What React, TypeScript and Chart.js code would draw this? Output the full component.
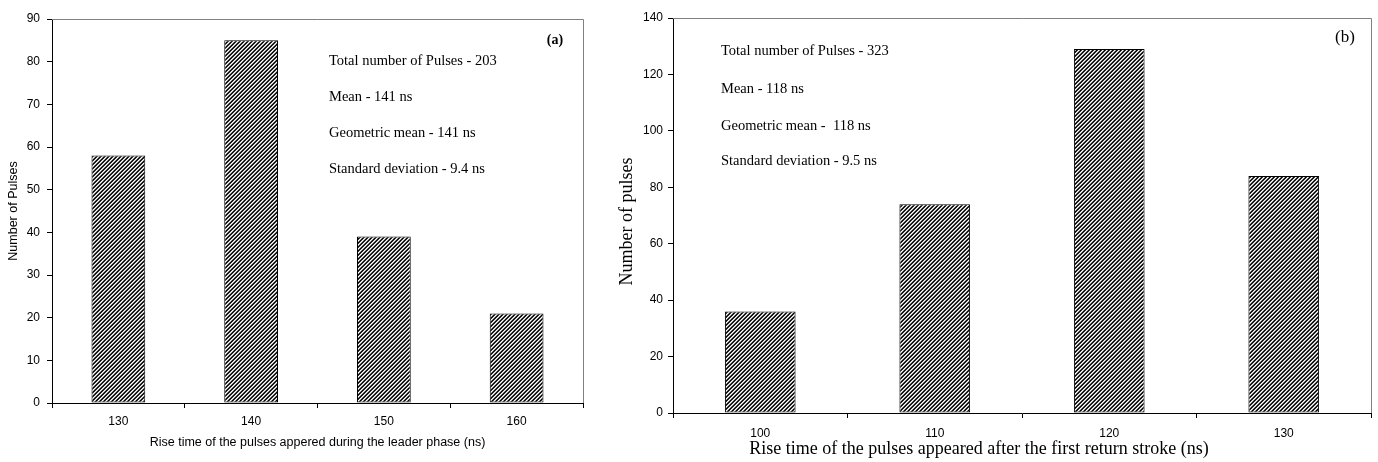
import { useEffect, useRef } from 'react';
import { Chart, registerables } from 'chart.js';

Chart.register(...registerables);

// ---- data (a) ----
const leftCategories = ['130', '140', '150', '160'];
const leftCounts = [58, 85, 39, 21];
const leftStats = [
  'Total number of Pulses - 203',
  'Mean - 141 ns',
  'Geometric mean - 141 ns',
  'Standard deviation - 9.4 ns',
];
const leftTag = '(a)';
const leftXTitle = 'Rise time of the pulses appered during the leader phase (ns)';
const leftYTitle = 'Number of Pulses';

// ---- data (b) ----
const rightCategories = ['100', '110', '120', '130'];
const rightCounts = [36, 74, 129, 84];
const rightStats = [
  'Total number of Pulses - 323',
  'Mean - 118 ns',
  'Geometric mean -  118 ns',
  'Standard deviation - 9.5 ns',
];
const rightTag = '(b)';
const rightXTitle = 'Rise time of the pulses appeared after the first return stroke (ns)';
const rightYTitle = 'Number of pulses';

const SANS = '"Liberation Sans", Arial, sans-serif';
const SERIF = '"Liberation Serif", "Times New Roman", serif';

function makeHatch(ctx: CanvasRenderingContext2D): CanvasPattern | string {
  const c = document.createElement('canvas');
  c.width = 4;
  c.height = 4;
  const g = c.getContext('2d');
  if (!g) return '#555';
  const colors = ['#000000', '#3a3a3a', '#ffffff', '#a8a8a8'];
  for (let x = 0; x < 4; x++) {
    for (let y = 0; y < 4; y++) {
      g.fillStyle = colors[(x + y) % 4];
      g.fillRect(x, y, 1, 1);
    }
  }
  return ctx.createPattern(c, 'repeat') || '#555';
}

interface CustomTitle {
  text: string;
  x: number;
  y: number;
  rotate: boolean;
  font: string;
}

interface PanelCfg {
  categories: string[];
  counts: number[];
  yMax: number;
  yStep: number;
  padTop: number;
  padRight: number;
  yWidth: number;
  xHeight: number;
  yTickPad: number;
  xTickPad: number;
  xTitle: string;
  yTitle: string;
  useAxisTitles: boolean;
  titleFont: { family: string; size: number };
  xTitlePad: number;
  yTitlePad: number;
  customTitles: CustomTitle[];
  stats: string[];
  statsX: number;
  statsY: number[];
  tag: string;
  tagX: number;
  tagY: number;
  tagFont: string;
}

function makeChart(canvas: HTMLCanvasElement, cfg: PanelCfg): Chart {
  const ctx = canvas.getContext('2d') as CanvasRenderingContext2D;
  const hatch = makeHatch(ctx);

  const framePlugin = {
    id: 'frameAndText',
    afterDraw(chart: Chart) {
      const { ctx: c, chartArea } = chart;
      const { left, right, top, bottom } = chartArea;
      c.save();
      c.strokeStyle = '#808080';
      c.lineWidth = 1;
      c.beginPath();
      c.moveTo(left, Math.round(top) + 0.5);
      c.lineTo(Math.round(right) + 0.5, Math.round(top) + 0.5);
      c.lineTo(Math.round(right) + 0.5, bottom);
      c.stroke();

      c.fillStyle = '#000';
      c.textBaseline = 'middle';
      c.textAlign = 'left';
      c.font = `14.5px ${SERIF}`;
      cfg.stats.forEach((s, i) => {
        c.fillText(s, cfg.statsX, cfg.statsY[i]);
      });
      c.textAlign = 'center';
      c.font = cfg.tagFont;
      c.fillText(cfg.tag, cfg.tagX, cfg.tagY);

      cfg.customTitles.forEach((t) => {
        c.save();
        c.font = t.font;
        c.textAlign = 'center';
        c.textBaseline = 'middle';
        c.translate(t.x, t.y);
        if (t.rotate) c.rotate(-Math.PI / 2);
        c.fillText(t.text, 0, 0);
        c.restore();
      });
      c.restore();
    },
  };

  return new Chart(canvas, {
    type: 'bar',
    data: {
      labels: cfg.categories,
      datasets: [
        {
          data: cfg.counts,
          backgroundColor: hatch as any,
          borderColor: '#000',
          borderWidth: 1,
          borderSkipped: false,
          barPercentage: 0.405,
          categoryPercentage: 1,
        },
      ],
    },
    options: {
      responsive: false,
      animation: false,
      devicePixelRatio: 1,
      layout: { padding: { left: 0, right: cfg.padRight, top: cfg.padTop, bottom: 0 } },
      plugins: {
        legend: { display: false },
        tooltip: { enabled: false },
      },
      scales: {
        x: {
          type: 'category',
          afterFit(scale: any) {
            scale.height = cfg.xHeight;
          },
          grid: {
            offset: true,
            drawOnChartArea: false,
            drawTicks: true,
            tickLength: 5,
            color: '#000',
          },
          border: { color: '#000', width: 1 },
          ticks: {
            color: '#000',
            font: { family: SANS, size: 12 },
            padding: cfg.xTickPad,
            maxRotation: 0,
          },
          title: {
            display: cfg.useAxisTitles,
            text: cfg.xTitle,
            color: '#000',
            font: cfg.titleFont,
            padding: { top: 0, bottom: cfg.xTitlePad },
          },
        },
        y: {
          min: 0,
          max: cfg.yMax,
          afterFit(scale: any) {
            scale.width = cfg.yWidth;
          },
          grid: {
            drawOnChartArea: false,
            drawTicks: true,
            tickLength: 5,
            color: '#000',
          },
          border: { color: '#000', width: 1 },
          ticks: {
            stepSize: cfg.yStep,
            color: '#000',
            font: { family: SANS, size: 12 },
            padding: cfg.yTickPad,
          },
          title: {
            display: cfg.useAxisTitles,
            text: cfg.yTitle,
            color: '#000',
            font: cfg.titleFont,
            padding: { top: cfg.yTitlePad, bottom: 0 },
          },
        },
      },
    },
    plugins: [framePlugin],
  } as any);
}

function Panel({ cfg, width, left }: { cfg: PanelCfg; width: number; left: number }) {
  const ref = useRef<HTMLCanvasElement | null>(null);
  useEffect(() => {
    if (!ref.current) return;
    const chart = makeChart(ref.current, cfg);
    return () => chart.destroy();
  }, []);
  return (
    <canvas
      ref={ref}
      width={width}
      height={462}
      style={{ position: 'absolute', left, top: 0, width, height: 462, display: 'block' }}
    />
  );
}

const leftCfg: PanelCfg = {
  categories: leftCategories,
  counts: leftCounts,
  yMax: 90,
  yStep: 10,
  padTop: 19,
  padRight: 7,
  yWidth: 52,
  xHeight: 59,
  yTickPad: 7,
  xTickPad: 6,
  xTitle: leftXTitle,
  yTitle: leftYTitle,
  useAxisTitles: true,
  titleFont: { family: SANS, size: 12.5 },
  xTitlePad: 12,
  yTitlePad: 6,
  customTitles: [],
  stats: leftStats,
  statsX: 329,
  statsY: [61, 97.5, 133.5, 169.5],
  tag: leftTag,
  tagX: 555,
  tagY: 40.5,
  tagFont: `bold 14px ${SERIF}`,
};

const rightCfg: PanelCfg = {
  categories: rightCategories,
  counts: rightCounts,
  yMax: 140,
  yStep: 20,
  padTop: 18,
  padRight: 7,
  yWidth: 83,
  xHeight: 49,
  yTickPad: 5,
  xTickPad: 8,
  xTitle: rightXTitle,
  yTitle: rightYTitle,
  useAxisTitles: false,
  titleFont: { family: SERIF, size: 18 },
  xTitlePad: 3,
  yTitlePad: 28,
  customTitles: [
    { text: rightXTitle, x: 389, y: 449.5, rotate: false, font: `18px ${SERIF}` },
    { text: rightYTitle, x: 37, y: 221.5, rotate: true, font: `18px ${SERIF}` },
  ],
  stats: rightStats,
  statsX: 131,
  statsY: [51.5, 89, 126, 161],
  tag: rightTag,
  tagX: 755,
  tagY: 37.5,
  tagFont: `17px ${SERIF}`,
};

export default function App() {
  return (
    <div style={{ position: 'absolute', left: 0, top: 0, width: 1378, height: 462, background: '#fff' }}>
      <Panel cfg={leftCfg} width={590} left={0} />
      <Panel cfg={rightCfg} width={788} left={590} />
    </div>
  );
}
